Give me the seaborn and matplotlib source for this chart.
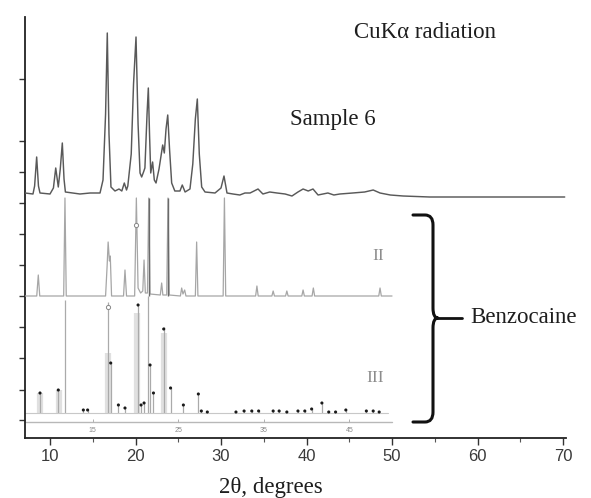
import matplotlib
matplotlib.use("Agg")
import matplotlib.pyplot as plt
from matplotlib.path import Path
from matplotlib.patches import PathPatch
from matplotlib.ticker import FixedLocator
import pandas as pd
import seaborn as sns

# ---------------- data ----------------
# Sample 6 experimental pattern: 2theta (deg) and intensity above its own baseline
s6_tth = [7.08, 8.01, 8.2, 8.44, 8.65, 8.83, 10.0, 10.4, 10.67, 10.97, 11.2, 11.44, 11.64, 11.8,
          13.5, 14.7, 15.85, 16.2, 16.5, 16.7, 16.9, 17.13, 17.6, 18.07, 18.4, 18.69, 18.95, 19.1,
          19.5, 19.77, 20.06, 20.3, 20.53, 20.72, 20.94, 21.1, 21.35, 21.5, 21.64, 21.78, 22.0,
          22.2, 22.4, 22.75, 23.18, 23.37, 23.57, 23.77, 23.98, 24.23, 24.6, 25.2, 25.47, 25.8,
          26.37, 26.7, 27.0, 27.23, 27.46, 27.74, 28.13, 29.3, 30.0, 30.35, 30.7, 31.4, 32.2,
          32.8, 33.4, 34.33, 34.9, 35.7, 36.55, 37.5, 38.3, 39.0, 39.6, 40.2, 40.76, 41.35, 42.5,
          43.2, 43.9, 45.4, 46.8, 47.8, 48.6, 49.8, 51.3, 54.4, 57.1, 60.3, 63.0, 66.1, 70.2]
s6_int = [1, 0, 8, 37, 8, 1, 0, 6, 26, 7, 25, 51, 15, 2,
          0, 1, 1, 14, 80, 161, 60, 7, 3, 5, 3, 11, 4, 8,
          40, 110, 157, 70, 21, 17, 22, 26, 80, 106, 60, 21, 32,
          14, 11, 25, 49, 41, 65, 79, 45, 11, 3, 3, 9, 2,
          5, 30, 75, 95, 40, 7, 2, 1, 6, 18, 1, 0, -1,
          1, 1, 5, 0, 2, 1, 0, -2, 2, 5, 3, 5, -1, 1,
          -1, 0, 1, 2, 4, 1, -1, -2, -3, -3, -3, -3, -3, -3]

# Benzocaine form II reference pattern (line profile)
p2_tth = [7.08, 8.45, 8.63, 8.8, 11.6, 11.75, 11.9, 16.5, 16.68, 16.8, 16.95, 17.05, 17.2,
          18.6, 18.77, 18.95, 19.9, 20.1, 20.3, 20.6, 20.85, 21.0, 21.15, 21.4, 21.55, 21.7,
          22.9, 23.06, 23.2, 23.65, 23.8, 23.95, 25.25, 25.4, 25.55, 25.75, 25.9, 27.0, 27.15,
          27.3, 30.25, 30.4, 30.55, 34.05, 34.2, 34.35, 35.95, 36.1, 36.25, 37.55, 37.7, 37.85,
          39.45, 39.6, 39.75, 40.65, 40.8, 40.95, 48.45, 48.6, 48.75, 50.0]
p2_int = [0, 0, 21, 0, 0, 98, 0, 0, 30, 54, 35, 40, 0,
          0, 26, 0, 0, 98, 8, 3, 5, 36, 3, 3, 98, 2,
          1, 13, 1, 1, 98, 1, 0, 8, 2, 6, 0, 0, 54,
          0, 0, 98, 0, 0, 10, 0, 0, 5, 0, 0, 5, 0,
          0, 6, 0, 0, 8, 0, 0, 8, 0, 0]
p2_dark_tth = [21.55, 23.8]
p2_dark_int = [98, 98]

# Benzocaine form III calculated stick pattern
p3_tth = [8.83, 10.97, 11.75, 13.9, 14.4, 16.8, 17.1, 18.0, 18.77, 20.3, 20.65, 21.0, 21.5,
          21.7, 22.1, 23.3, 24.1, 25.6, 27.35, 27.7, 28.4, 31.75, 32.7, 33.6, 34.4, 36.1,
          36.8, 37.7, 39.0, 39.8, 40.6, 41.8, 42.6, 43.4, 44.6, 47.0, 47.8, 48.5]
p3_int = [20, 23, 113, 3, 3, 111, 50, 8, 5, 108, 8, 10, 117,
          48, 20, 86, 25, 8, 19, 2, 1, 1, 2, 2, 2, 2,
          2, 1, 2, 2, 4, 10, 1, 1, 3, 2, 2, 1]
p3_wide_tth = [8.8, 11.0, 16.75, 20.2, 23.3]
p3_wide_int = [20, 23, 60, 100, 80]
p3_mark_tth = [8.83, 10.97, 13.9, 14.4, 17.1, 18.0, 18.77, 20.3, 20.65, 21.0, 21.7, 22.1,
               23.3, 24.1, 25.6, 27.35, 27.7, 28.4, 31.75, 32.7, 33.6, 34.4, 36.1, 36.8,
               37.7, 39.0, 39.8, 40.6, 41.8, 42.6, 43.4, 44.6, 47.0, 47.8, 48.5]
p3_mark_int = [20, 23, 3, 3, 50, 8, 5, 108, 8, 10, 48, 20,
               84, 25, 8, 19, 2, 1, 1, 2, 2, 2, 2, 2,
               1, 2, 2, 4, 10, 1, 1, 3, 2, 2, 1]
open_mark_tth = [16.8, 20.1]
open_mark_lvl = ["III", "II"]
open_mark_int = [106, 71]

x_major = [10, 20, 30, 40, 50, 60, 70]
x_minor = [15, 25, 35, 45, 55, 65]
inner_ticks = [15, 25, 35, 45]

# ---------------- layout ----------------
W, H = 591, 498
off = {"S6": 244, "II": 142, "III": 25}

sns.set_theme(style="white")
plt.rcParams["font.family"] = ["Liberation Serif", "DejaVu Serif"]

fig = plt.figure(figsize=(W / 100, H / 100), dpi=100)
ax = fig.add_axes([25 / W, 1 - 438 / H, (566 - 25) / W, (438 - 17) / H])
ax.set_xlim(7.076, 70.35)
ax.set_ylim(0, 421)

# form III sticks
ax.vlines(p3_wide_tth, off["III"], [v + off["III"] for v in p3_wide_int],
          color="#e0e0e0", linewidth=4.5, zorder=1)
ax.vlines(p3_tth, off["III"], [v + off["III"] for v in p3_int],
          color="#aaaaaa", linewidth=0.9, zorder=2)
ax.plot([7.076, 49.5], [off["III"], off["III"]], color="#c8c8c8", lw=0.8, zorder=2)
m3 = pd.DataFrame({"tth": p3_mark_tth, "y": [v + off["III"] for v in p3_mark_int]})
sns.scatterplot(data=m3, x="tth", y="y", ax=ax, color="#1a1a1a", s=5, marker="o",
                edgecolor="none", zorder=5, legend=False)

# inner axis of the form III pattern
ax.plot([7.076, 50.0], [16, 16], color="#b8b8b8", lw=1.0, zorder=2)
ax.vlines(inner_ticks, 16, 19, color="#b0b0b0", lw=0.7)
for t in inner_ticks:
    ax.text(t, 7, str(t), fontsize=5, color="#8a8a8a", ha="center", va="center",
            family=["Liberation Sans"])

# form II line pattern
d2 = pd.DataFrame({"tth": p2_tth, "y": [v + off["II"] for v in p2_int]})
sns.lineplot(data=d2, x="tth", y="y", ax=ax, color="#a6a6a6", linewidth=0.9,
             sort=False, estimator=None, zorder=3)
ax.vlines(p2_dark_tth, off["II"], [v + off["II"] for v in p2_dark_int],
          color="#6a6a6a", linewidth=1.0, zorder=3)

# open markers
for t, lvl, v in zip(open_mark_tth, open_mark_lvl, open_mark_int):
    ax.plot(t, v + off[lvl], marker="o", ms=3.0, mfc="white", mec="#888888", mew=0.7, zorder=6)

# Sample 6 experimental trace
d6 = pd.DataFrame({"tth": s6_tth, "y": [v + off["S6"] for v in s6_int]})
sns.lineplot(data=d6, x="tth", y="y", ax=ax, color="#595959", linewidth=1.05,
             sort=False, estimator=None, zorder=4)

# axes styling
for sp in ["top", "right"]:
    ax.spines[sp].set_visible(False)
for sp in ["left", "bottom"]:
    ax.spines[sp].set_color("#222222")
    ax.spines[sp].set_linewidth(1.3)
ax.xaxis.set_major_locator(FixedLocator(x_major))
ax.xaxis.set_minor_locator(FixedLocator(x_minor))
ax.yaxis.set_major_locator(FixedLocator([359, 297, 266, 235, 204, 173, 142, 111, 80, 48, 18]))
ax.tick_params(axis="x", which="major", direction="out", length=5, width=1.0,
               color="#333333", labelsize=12, labelcolor="#3a3a3a", pad=3, bottom=True)
ax.tick_params(axis="x", which="minor", direction="out", length=3, width=0.8,
               color="#555555", bottom=True)
ax.tick_params(axis="y", which="major", direction="out", length=4, width=1.0,
               color="#333333", labelleft=False, left=True)
for lab in ax.get_xticklabels():
    lab.set_family(["Liberation Sans", "DejaVu Sans"])
ax.set_xlabel("")
ax.set_ylabel("")
ax.grid(False)

# texts
def fx(px):
    return px / W

def fy(py):
    return 1 - py / H

txt = dict(fontsize=16.5, color="#1e1e1e", family=["Liberation Serif", "DejaVu Serif"])
fig.text(fx(425), fy(33), "CuKα radiation", ha="center", va="center", **txt)
fig.text(fx(333), fy(120), "Sample 6", ha="center", va="center", **txt)
fig.text(fx(470), fy(317), "Benzocaine", ha="left", va="center", **txt)
fig.text(fx(271), fy(487), "2θ, degrees", ha="center", va="center", **txt)
fig.text(fx(378), fy(256), "II", ha="center", va="center", fontsize=12.5, color="#8c8c8c",
         family=["Liberation Serif"])
fig.text(fx(375), fy(378), "III", ha="center", va="center", fontsize=12.5, color="#8c8c8c",
         family=["Liberation Serif"])

# curly brace
pts = [(413, 215), (425, 215), (433, 215), (433, 225), (433, 308), (433, 318), (438, 318),
       (433, 318), (433, 328), (433, 412), (433, 422), (425, 422), (413, 422)]
codes = [Path.MOVETO, Path.LINETO, Path.CURVE3, Path.CURVE3, Path.LINETO, Path.CURVE3,
         Path.CURVE3, Path.CURVE3, Path.CURVE3, Path.LINETO, Path.CURVE3, Path.CURVE3,
         Path.LINETO]
brace = Path([(fx(a), fy(b)) for a, b in pts], codes)
fig.patches.append(PathPatch(brace, transform=fig.transFigure, fill=False,
                             edgecolor="#111111", lw=2.2, capstyle="round", joinstyle="round"))
fig.add_artist(plt.Line2D([fx(437), fx(462)], [fy(318), fy(318)], transform=fig.transFigure,
                          color="#111111", lw=2.0))

fig.savefig("out.png", dpi=100)
